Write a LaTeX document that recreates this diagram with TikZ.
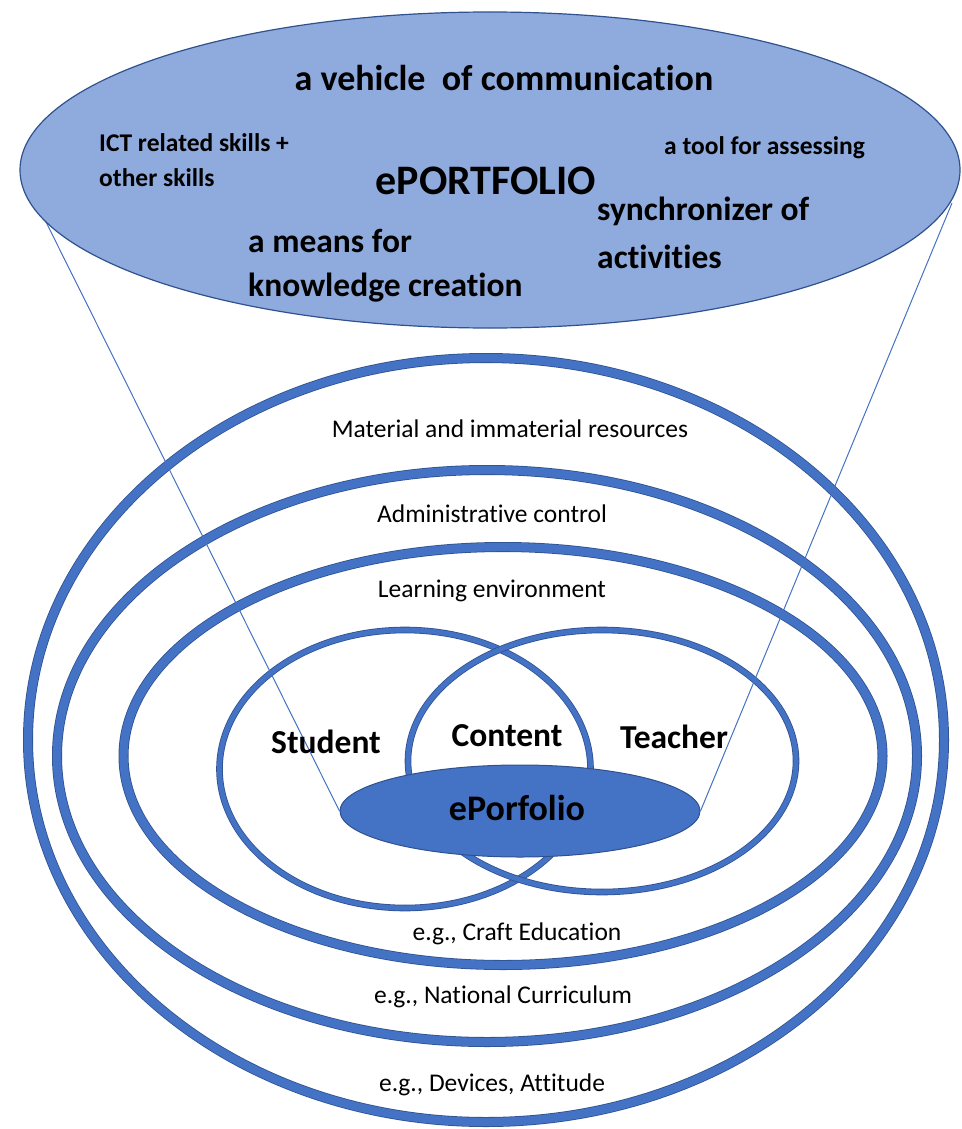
\documentclass[tikz,border=0pt]{standalone}
\usepackage{fontspec}
\setmainfont{Carlito}[Ligatures=NoCommon]
\usetikzlibrary{shapes.geometric}
\definecolor{ringblue}{HTML}{4472C4}
\definecolor{ringdark}{HTML}{2F528F}
\definecolor{topfill}{HTML}{8FAADC}
\tikzset{
  ring/.style={ellipse, inner sep=0pt, outer sep=0pt, draw=ringdark, line width=0.8pt, double=ringblue, double distance=#1},
  ring/.default=8.4pt,
  link/.style={draw=ringblue, line width=1pt},
  bigtxt/.style={anchor=base, inner sep=0pt, font=\bfseries\fontsize{36}{40}\selectfont},
  midtxt/.style={anchor=base west, inner sep=0pt, font=\bfseries\fontsize{33.5}{38}\selectfont},
  smalltxt/.style={anchor=base west, inner sep=0pt, font=\bfseries\fontsize{25.5}{30}\selectfont},
  lbl/.style={anchor=base, inner sep=0pt, font=\fontsize{25.5}{30}\selectfont},
  venn/.style={anchor=base, inner sep=0pt, font=\bfseries\fontsize{33.5}{38}\selectfont},
}
\begin{document}
\begin{tikzpicture}[x=1pt, y=-1pt]
\useasboundingbox (0,0) rectangle (961,1129);
% rings
\node[ring, minimum width=916pt, minimum height=764pt] (outer) at (486,740) {};
\node[ring, minimum width=860pt, minimum height=572pt] (admin) at (487,756) {};
\node[ring, minimum width=759pt, minimum height=418pt] (learn) at (503,756) {};
% venn
\node[ring=5pt, minimum width=371pt, minimum height=278pt] (student) at (405,769) {};
\node[ring=5pt, minimum width=388pt, minimum height=262pt] (teacher) at (602,761) {};
% connectors
\coordinate (tl) at (40,210);
\coordinate (tr) at (952,203);
\node[ellipse, inner sep=0pt, minimum width=360pt, minimum height=92pt, fill=ringblue, draw=ringdark, line width=1pt] (ep) at (520,811) {};
\draw[link] (tl) -- (ep.west);
\draw[link] (tr) -- (ep.east);
% top ellipse
\node[ellipse, inner sep=0pt, minimum width=940pt, minimum height=316pt, fill=topfill, draw=ringdark, line width=1.2pt] (top) at (490,170) {};
% top texts
\node[bigtxt] (vehicle) at (504,91) {a vehicle~ of communication};
\node[smalltxt] (ict1) at (99,151) {ICT related skills +};
\node[smalltxt] (ict2) at (99,186) {other skills};
\node[anchor=base, inner sep=0pt, font=\bfseries\fontsize{42}{46}\selectfont] (eportfolio) at (486,194) {ePORTFOLIO};
\node[smalltxt] (tool) at (664,154) {a tool for assessing};
\node[midtxt] (sync1) at (597,220) {synchronizer of};
\node[midtxt] (sync2) at (597,268) {activities};
\node[midtxt] (means1) at (248,252) {a means for};
\node[midtxt] (means2) at (248,296) {knowledge creation};
% ring labels
\node[lbl] (mat) at (510,437) {Material and immaterial resources};
\node[lbl] (adm) at (492,522) {Administrative control};
\node[lbl] (lrn) at (492,597) {Learning environment};
\node[lbl] (craft) at (517,940) {e.g., Craft Education};
\node[lbl] (nat) at (503,1003) {e.g., National Curriculum};
\node[lbl] (dev) at (492,1091) {e.g., Devices, Attitude};
% venn labels
\node[venn] (stu) at (326,753) {Student};
\node[venn] (con) at (507,746) {Content};
\node[venn] (tea) at (674,748) {Teacher};
\node[venn, font=\bfseries\fontsize{36}{40}\selectfont] (epl) at (517,820) {ePorfolio};
\end{tikzpicture}
\end{document}
